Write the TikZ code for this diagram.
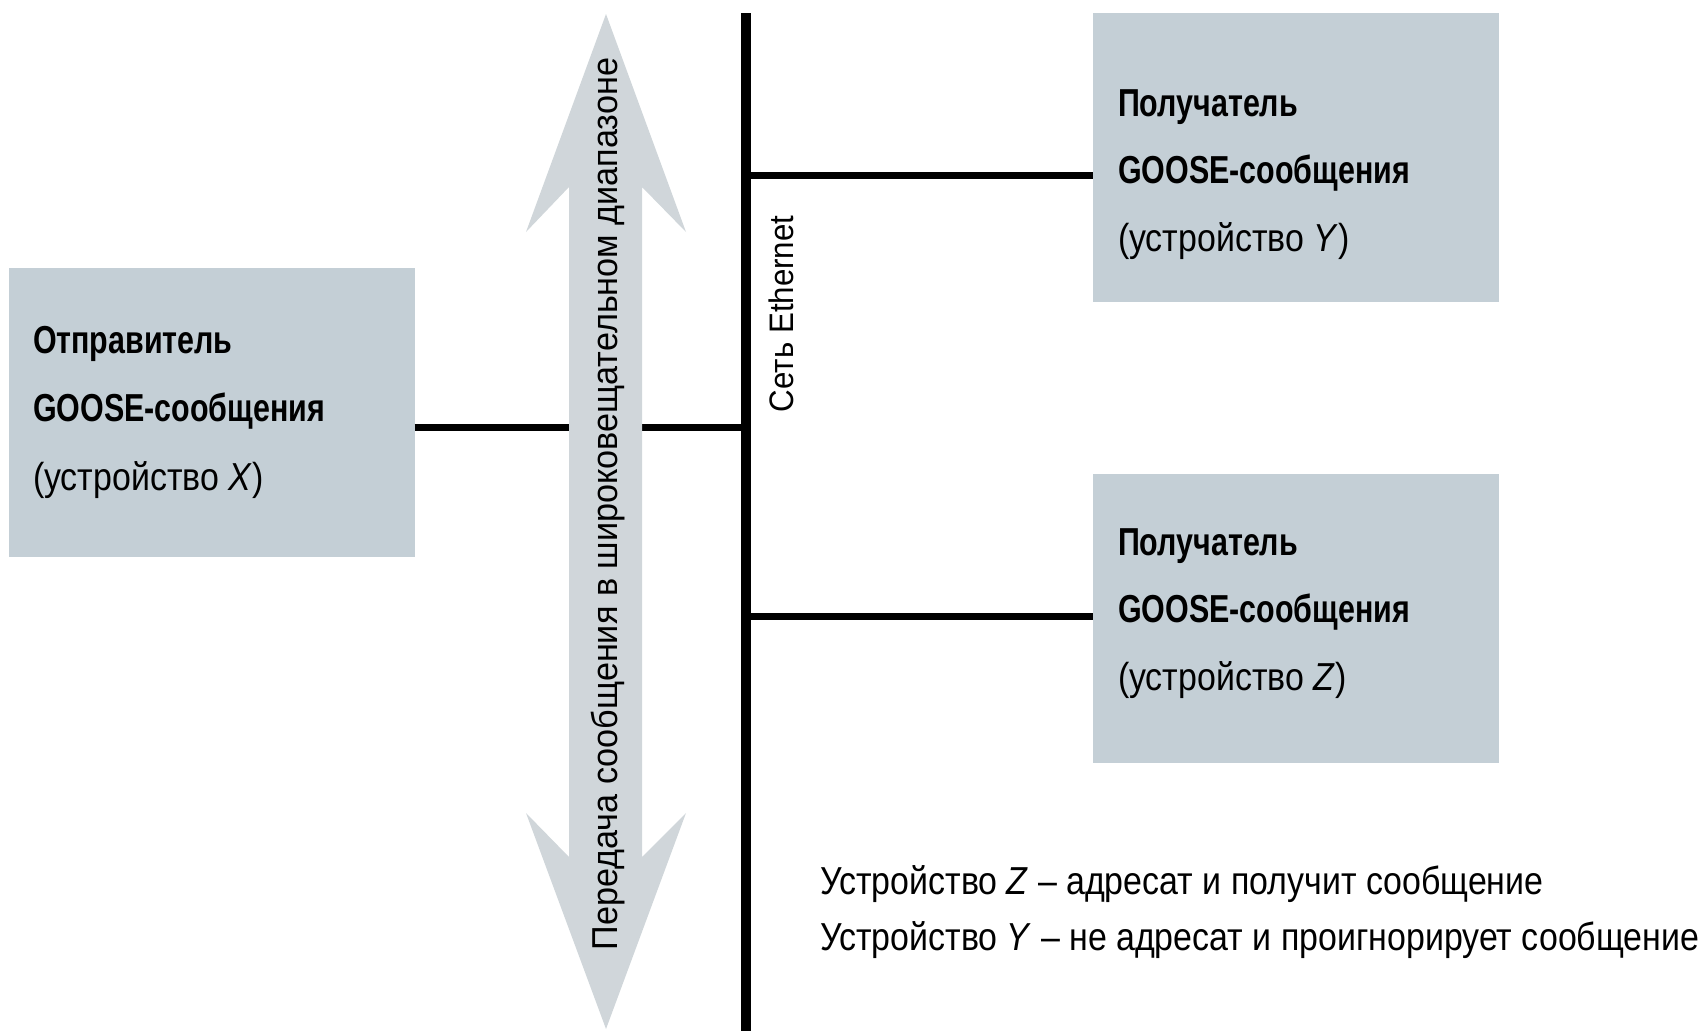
\documentclass[tikz,border=0pt]{standalone}
\usepackage{fontspec}
\setmainfont[FakeStretch=0.87,BoldFeatures={FakeStretch=0.78}]{Liberation Sans}
\newfontfamily\arrfont[FakeStretch=0.95]{Liberation Sans}
\newfontfamily\ethfont[FakeStretch=0.92]{Liberation Sans}
\usetikzlibrary{positioning}
\definecolor{boxgray}{RGB}{196,207,214}
\definecolor{arrgray}{RGB}{208,214,218}
\tikzstyle{every node}=[inner sep=0pt,outer sep=0pt]
\tikzstyle{device}=[fill=boxgray,minimum width=406pt,minimum height=289pt]
\tikzstyle{devtext}=[anchor=base west,font=\fontsize{39}{47}\selectfont]
\tikzstyle{note}=[anchor=base west,font=\fontsize{39}{47}\selectfont]
\tikzstyle{bus}=[line width=10pt]
\tikzstyle{tap}=[line width=7pt]

\begin{document}
\begin{tikzpicture}[x=1pt,y=-1pt]
  \useasboundingbox (0,0) rectangle (1702,1031);
  \node[device] (snd) at (211.5,412) {};
  \node[device] (rcvY) at (1296,157.5) {};
  \node[device] (rcvZ) at (1296,618.5) {};
  \node[devtext] (sndA) at (33,353) {\textbf{Отправитель}};
  \node[devtext] (sndB) at (33,421) {\textbf{GOOSE-сообщения}};
  \node[devtext] (sndC) at (33,490) {(устройство \textit{X})};
  \node[devtext] (rcvYA) at (1118,116) {\textbf{Получатель}};
  \node[devtext] (rcvYB) at (1118,183) {\textbf{GOOSE-сообщения}};
  \node[devtext] (rcvYC) at (1118,251) {(устройство \textit{Y})};
  \node[devtext] (rcvZA) at (1118,555) {\textbf{Получатель}};
  \node[devtext] (rcvZB) at (1118,622) {\textbf{GOOSE-сообщения}};
  \node[devtext] (rcvZC) at (1118,690) {(устройство \textit{Z})};
  % Ethernet
  \coordinate (bustop) at (746,13);
  \coordinate (busbot) at (746,1031);
  \coordinate (tapX) at (746,427);
  \coordinate (tapY) at (746,175);
  \coordinate (tapZ) at (746,616);
  \draw[tap] (tapX -| snd.east) -- (tapX);
  \draw[tap] (tapY) -- (tapY -| rcvY.west);
  \draw[tap] (tapZ) -- (tapZ -| rcvZ.west);
  \draw[bus] (bustop) -- (busbot);
  \node[rotate=90,anchor=base west,font=\ethfont\fontsize{34}{40}\selectfont] (eth) at (793,412) {Сеть Ethernet};
  % broadcast
  \fill[arrgray] (606,14) -- (686,232) -- (642,187) -- (642,857) -- (686,813) -- (606,1029)
    -- (526,813) -- (569,857) -- (569,187) -- (526,232) -- cycle;
  \node[rotate=90,font=\arrfont\fontsize{36}{40}\selectfont] (bcast) at (608,504)
    {Передача сообщения в широковещательном диапазоне};
  \node[note] (noteZ) at (820,894) {Устройство \textit{Z} – адресат и получит сообщение};
  \node[note] (noteY) at (820,950) {Устройство \textit{Y} – не адресат и проигнорирует сообщение};
\end{tikzpicture}
\end{document}
